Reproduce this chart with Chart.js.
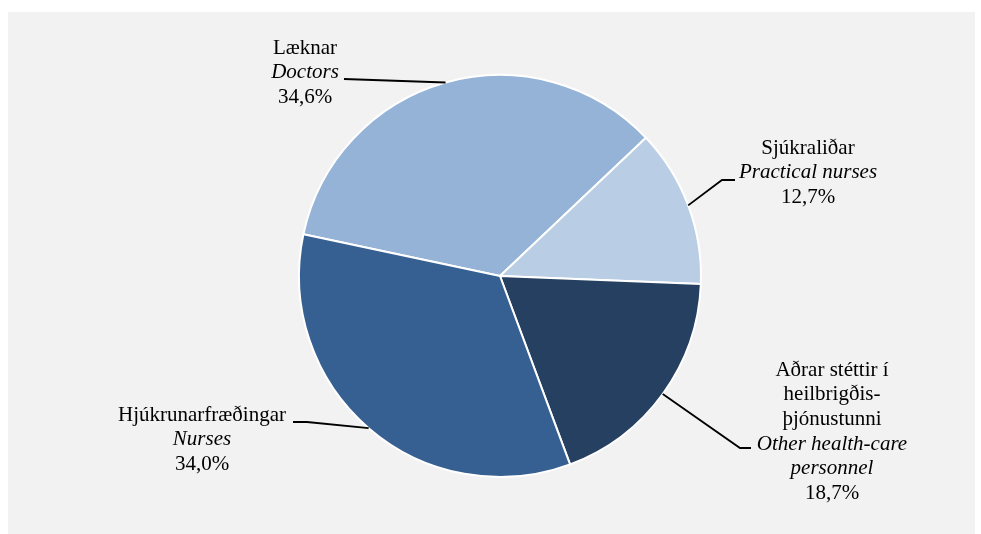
<!DOCTYPE html>
<html>
<head>
<meta charset="utf-8">
<script src="https://cdn.jsdelivr.net/npm/chart.js@4/dist/chart.umd.min.js"></script>
<style>
html,body{margin:0;padding:0;background:#fff;}
#wrap{width:981px;height:534px;position:relative;}
</style>
</head>
<body>
<div id="wrap"><canvas id="c" width="981" height="534"></canvas></div>
<script>
// Data
const categoriesIs = ["Læknar", "Sjúkraliðar", "Aðrar stéttir í heilbrigðis-þjónustunni", "Hjúkrunarfræðingar"];
const categoriesEn = ["Doctors", "Practical nurses", "Other health-care personnel", "Nurses"];
const shares = [34.6, 12.7, 18.7, 34.0];
const colors = ["#95B3D7", "#B9CDE5", "#254061", "#376092"];

// label text lines: [text, italic]
const labelLines = [
  [["Læknar", false], ["Doctors", true], ["34,6%", false]],
  [["Sjúkraliðar", false], ["Practical nurses", true], ["12,7%", false]],
  [["Aðrar stéttir í", false], ["heilbrigðis-", false], ["þjónustunni", false], ["Other health-care", true], ["personnel", true], ["18,7%", false]],
  [["Hjúkrunarfræðingar", false], ["Nurses", true], ["34,0%", false]]
];
// label layout relative to pie centre: text centre x, first line y; leader path points (relative)
const labelLayout = [
  {tx: -195, ty: -228, path: [[-156, -197]]},
  {tx: 308, ty: -128, path: [[222, -96], [235, -96]]},
  {tx: 332, ty: 94, path: [[240, 172], [251, 172]]},
  {tx: -298, ty: 139, path: [[-193, 146], [-207, 146]]}
];

const FONT_FAMILY = '"Liberation Serif", "DejaVu Serif", serif';

const bgPlugin = {
  id: 'bg',
  beforeDraw(chart) {
    const ctx = chart.ctx;
    ctx.save();
    ctx.fillStyle = '#ffffff';
    ctx.fillRect(0, 0, chart.width, chart.height);
    ctx.fillStyle = '#F2F2F2';
    ctx.fillRect(8, 12, 967, 522);
    ctx.restore();
  }
};

const labelPlugin = {
  id: 'labels',
  afterDatasetsDraw(chart) {
    const ctx = chart.ctx;
    const meta = chart.getDatasetMeta(0);
    ctx.save();
    meta.data.forEach((arc, i) => {
      const cx = arc.x, cy = arc.y;
      const mid = (arc.startAngle + arc.endAngle) / 2;
      const sx = cx + Math.cos(mid) * arc.outerRadius;
      const sy = cy + Math.sin(mid) * arc.outerRadius;
      const L = labelLayout[i];
      ctx.beginPath();
      ctx.moveTo(sx, sy);
      L.path.forEach(p => ctx.lineTo(cx + p[0], cy + p[1]));
      ctx.strokeStyle = '#000';
      ctx.lineWidth = 1.8;
      ctx.stroke();
      ctx.fillStyle = '#000';
      ctx.textAlign = 'center';
      ctx.textBaseline = 'middle';
      labelLines[i].forEach((ln, j) => {
        ctx.font = (ln[1] ? 'italic ' : '') + '21px ' + FONT_FAMILY;
        ctx.fillText(ln[0], cx + L.tx, cy + L.ty + j * 24.7);
      });
    });
    ctx.restore();
  }
};

function build() {
  new Chart(document.getElementById('c'), {
    type: 'pie',
    data: {
      labels: categoriesIs,
      datasets: [{
        data: shares,
        backgroundColor: colors,
        borderColor: '#ffffff',
        borderWidth: 2,
        hoverOffset: 0
      }]
    },
    options: {
      responsive: false,
      animation: false,
      rotation: -78,
      layout: {padding: {top: 74, bottom: 56, left: 19, right: 0}},
      plugins: {legend: {display: false}, tooltip: {enabled: false}}
    },
    plugins: [bgPlugin, labelPlugin]
  });
}

Promise.all([
  document.fonts.load('21px "Liberation Serif"'),
  document.fonts.load('italic 21px "Liberation Serif"')
]).then(build, build);
</script>
</body>
</html>
